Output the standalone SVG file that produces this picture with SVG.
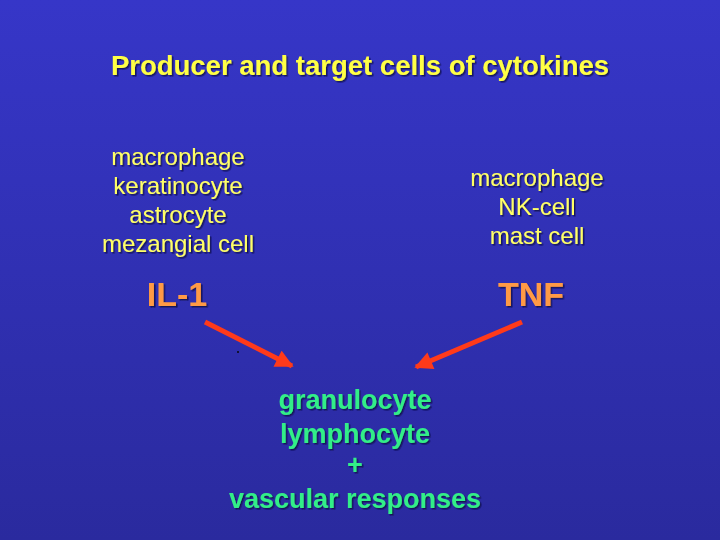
<svg xmlns="http://www.w3.org/2000/svg" width="720" height="540" viewBox="0 0 720 540">
<defs>
<linearGradient id="bg" x1="0" y1="0" x2="0" y2="1">
<stop offset="0" stop-color="#3636c8"/>
<stop offset="1" stop-color="#2a2a9e"/>
</linearGradient>
<filter id="sh" x="-10%" y="-20%" width="120%" height="150%">
<feDropShadow dx="1.5" dy="1.5" stdDeviation="0.6" flood-color="#111144" flood-opacity="0.8"/>
</filter>
<marker id="ah" viewBox="0 0 10 10" refX="9" refY="5" markerWidth="4" markerHeight="3.6" orient="auto" markerUnits="strokeWidth">
<path d="M0,0 L10,5 L0,10 z" fill="#ff3a1a"/>
</marker>
<style>
text{font-family:"Liberation Sans",Arial,sans-serif;text-anchor:middle;filter:url(#sh)}
.title{font-size:27.5px;font-weight:bold;fill:#ffff44}
.cell{font-size:24px;fill:#ffff66}
.cyt{font-size:34px;font-weight:bold;fill:#ff9a44}
.tgt{font-size:27px;font-weight:bold;fill:#33ee88}
.arrow{stroke:#ff3a1a;stroke-width:5;fill:none;marker-end:url(#ah)}
</style>
</defs>
<rect width="720" height="540" fill="url(#bg)"/>
<g id="title"><text class="title" x="360" y="75">Producer and target cells of cytokines</text></g>
<g id="il1-producers">
<text class="cell" x="178" y="165">macrophage</text>
<text class="cell" x="178" y="194">keratinocyte</text>
<text class="cell" x="178" y="223">astrocyte</text>
<text class="cell" x="178" y="252">mezangial cell</text>
</g>
<g id="tnf-producers">
<text class="cell" x="537" y="186">macrophage</text>
<text class="cell" x="537" y="215">NK-cell</text>
<text class="cell" x="537" y="244">mast cell</text>
</g>
<g id="il1"><text class="cyt" x="177" y="306">IL-1</text></g>
<g id="tnf"><text class="cyt" x="531" y="306">TNF</text></g>
<g id="targets">
<text class="tgt" x="355" y="409">granulocyte</text>
<text class="tgt" x="355" y="443">lymphocyte</text>
<text class="tgt" x="355" y="474">+</text>
<text class="tgt" x="355" y="508">vascular responses</text>
</g>
<g id="connectors">
<line class="arrow" x1="205" y1="322" x2="292" y2="366"/>
<line class="arrow" x1="522" y1="322" x2="416" y2="367"/>
</g>
<rect x="237" y="351" width="2" height="2" fill="#111133"/>
</svg>
